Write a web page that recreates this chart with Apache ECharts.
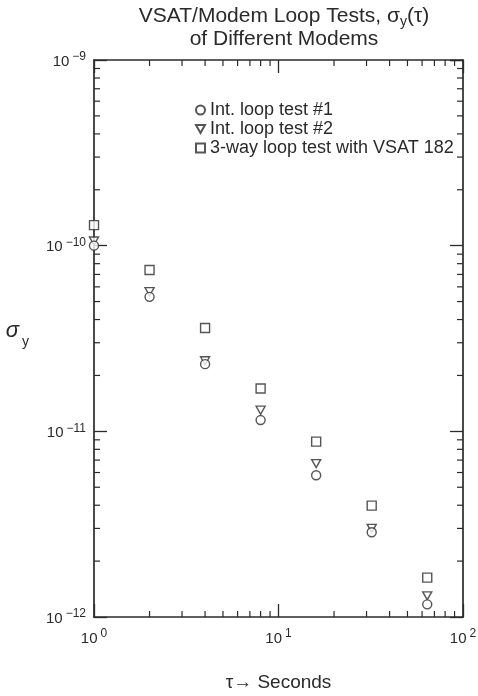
<!DOCTYPE html>
<html>
<head>
<meta charset="utf-8">
<script src="https://cdn.jsdelivr.net/npm/echarts@6/dist/echarts.min.js"></script>
<style>
html,body{margin:0;padding:0;background:#fff;}
#chart{width:478px;height:696px;}
</style>
</head>
<body>
<div id="chart"></div>
<script>
// ---- data ----
const tau = [1, 2, 4, 8, 16, 32, 64];
const loopTest1 = [1.0e-10, 5.3e-11, 2.3e-11, 1.15e-11, 5.8e-12, 2.86e-12, 1.17e-12];
const loopTest2 = [1.06e-10, 5.65e-11, 2.4e-11, 1.3e-11, 6.7e-12, 3.0e-12, 1.3e-12];
const threeWay = [1.29e-10, 7.4e-11, 3.6e-11, 1.7e-11, 8.8e-12, 3.98e-12, 1.63e-12];
const seriesNames = ['Int. loop test #1', 'Int. loop test #2', '3-way loop test with VSAT 182'];
const xRange = [1, 100];
const yRange = [1e-12, 1e-9];
const xMinorTicks = [2, 3, 4, 5, 6, 7, 8, 9, 20, 30, 40, 50, 60, 70, 80, 90];
const yMinorTicks = [2e-12, 3e-12, 4e-12, 5e-12, 6e-12, 7e-12, 8e-12, 9e-12,
                     2e-11, 3e-11, 4e-11, 5e-11, 6e-11, 7e-11, 8e-11, 9e-11,
                     2e-10, 3e-10, 4e-10, 5e-10, 6e-10, 7e-10, 8e-10, 9e-10];

// ---- style ----
const FONT = '"Liberation Sans", Arial, Helvetica, sans-serif';
const INK = '#2a2a2a';
const pair = (xs, ys) => xs.map((x, i) => [x, ys[i]]);

function powLabel(value) {
  const e = Math.round(Math.log10(value));
  const s = e < 0 ? '\u2212' + (-e) : String(e);
  return '{b|10}{e|' + s + '}';
}
const powRich = {
  b: { fontFamily: FONT, fontSize: 15, color: INK, lineHeight: 18, verticalAlign: 'bottom' },
  e: { fontFamily: FONT, fontSize: 12, color: INK, lineHeight: 18, verticalAlign: 'top', padding: [0, 0, 0, 3] }
};

const axisLine = { show: true, lineStyle: { color: INK, width: 1.7 } };
const majorTick = { show: true, inside: true, length: 13, lineStyle: { color: INK, width: 1.3 } };

function minorXRender(params, api) {
  const v = api.value(0);
  const b = api.coord([v, yRange[0]]);
  const t = api.coord([v, yRange[1]]);
  const st = { stroke: INK, lineWidth: 1.2 };
  return { type: 'group', children: [
    { type: 'line', shape: { x1: b[0], y1: b[1], x2: b[0], y2: b[1] - 6 }, style: st },
    { type: 'line', shape: { x1: t[0], y1: t[1], x2: t[0], y2: t[1] + 6 }, style: st }
  ]};
}
function minorYRender(params, api) {
  const v = api.value(1);
  const l = api.coord([xRange[0], v]);
  const r = api.coord([xRange[1], v]);
  const st = { stroke: INK, lineWidth: 1.2 };
  return { type: 'group', children: [
    { type: 'line', shape: { x1: l[0], y1: l[1], x2: l[0] + 6, y2: l[1] }, style: st },
    { type: 'line', shape: { x1: r[0], y1: r[1], x2: r[0] - 6, y2: r[1] }, style: st }
  ]};
}

const markerStyle = { color: '#fff', borderColor: INK, borderWidth: 1.4 };

const chart = echarts.init(document.getElementById('chart'), null, { renderer: 'canvas' });
chart.setOption({
  backgroundColor: '#fff',
  animation: false,
  title: {
    text: '{a|VSAT/Modem Loop Tests, \u03c3}{s|y}{a|(\u03c4)}\n{a|of Different Modems}',
    left: 279, textAlign: 'center', top: 1,
    textStyle: {
      fontWeight: 'normal',
      rich: {
        a: { fontFamily: FONT, fontSize: 21, fontWeight: 'normal', color: INK, lineHeight: 23, verticalAlign: 'top' },
        s: { fontFamily: FONT, fontSize: 14, fontWeight: 'normal', color: INK, lineHeight: 23, verticalAlign: 'bottom', padding: [7, 0, 0, 0] }
      }
    }
  },
  legend: {
    orient: 'vertical', left: 190, top: 96, itemGap: 1,
    itemWidth: 9, itemHeight: 9,
    data: seriesNames,
    textStyle: { fontFamily: FONT, fontSize: 18, color: INK, lineHeight: 17, padding: [0, 0, 0, 0] }
  },
  grid: { left: 94, right: 15, top: 60, bottom: 79, containLabel: false, outerBoundsMode: 'none' },
  xAxis: [
    {
      type: 'log', logBase: 10, min: xRange[0], max: xRange[1], position: 'bottom',
      axisLine: axisLine, axisTick: majorTick, splitLine: { show: false },
      axisLabel: { formatter: powLabel, rich: powRich, margin: 11 },
      name: '{a|\u03c4\u2192 Seconds}', nameLocation: 'middle', nameGap: 56,
      nameTextStyle: { rich: { a: { fontFamily: FONT, fontSize: 19, color: INK } } }
    },
    {
      type: 'log', logBase: 10, min: xRange[0], max: xRange[1], position: 'top',
      axisLine: axisLine, axisTick: majorTick, splitLine: { show: false },
      axisLabel: { show: false }
    }
  ],
  yAxis: [
    {
      type: 'log', logBase: 10, min: yRange[0], max: yRange[1], position: 'left',
      axisLine: axisLine, axisTick: majorTick, splitLine: { show: false },
      axisLabel: { formatter: powLabel, rich: powRich, margin: 8 },
      name: '{g|\u03c3}{s|y}', nameLocation: 'middle', nameGap: 65, nameRotate: 0,
      nameTextStyle: {
        padding: [0, 0, 8, 0],
        rich: {
          g: { fontFamily: FONT, fontSize: 22, fontStyle: 'italic', color: INK, lineHeight: 30, verticalAlign: 'top' },
          s: { fontFamily: FONT, fontSize: 14, color: INK, lineHeight: 30, verticalAlign: 'bottom', padding: [0, 0, 0, 3] }
        }
      }
    },
    {
      type: 'log', logBase: 10, min: yRange[0], max: yRange[1], position: 'right',
      axisLine: axisLine, axisTick: majorTick, splitLine: { show: false },
      axisLabel: { show: false }
    }
  ],
  series: [
    {
      type: 'custom', name: 'xminor', coordinateSystem: 'cartesian2d', clip: false,
      renderItem: minorXRender, silent: true,
      data: xMinorTicks.map(v => [v, yRange[0]])
    },
    {
      type: 'custom', name: 'yminor', coordinateSystem: 'cartesian2d', clip: false,
      renderItem: minorYRender, silent: true,
      data: yMinorTicks.map(v => [xRange[0], v])
    },
    {
      type: 'scatter', name: seriesNames[0], symbol: 'circle', symbolSize: 9,
      itemStyle: markerStyle, data: pair(tau, loopTest1), z: 5
    },
    {
      type: 'scatter', name: seriesNames[1], symbol: 'path://M0,0 L10,0 L5,9 Z', symbolSize: [9, 8],
      itemStyle: markerStyle, data: pair(tau, loopTest2), z: 4
    },
    {
      type: 'scatter', name: seriesNames[2], symbol: 'rect', symbolSize: 9,
      itemStyle: markerStyle, data: pair(tau, threeWay), z: 3
    }
  ]
});
</script>
</body>
</html>
